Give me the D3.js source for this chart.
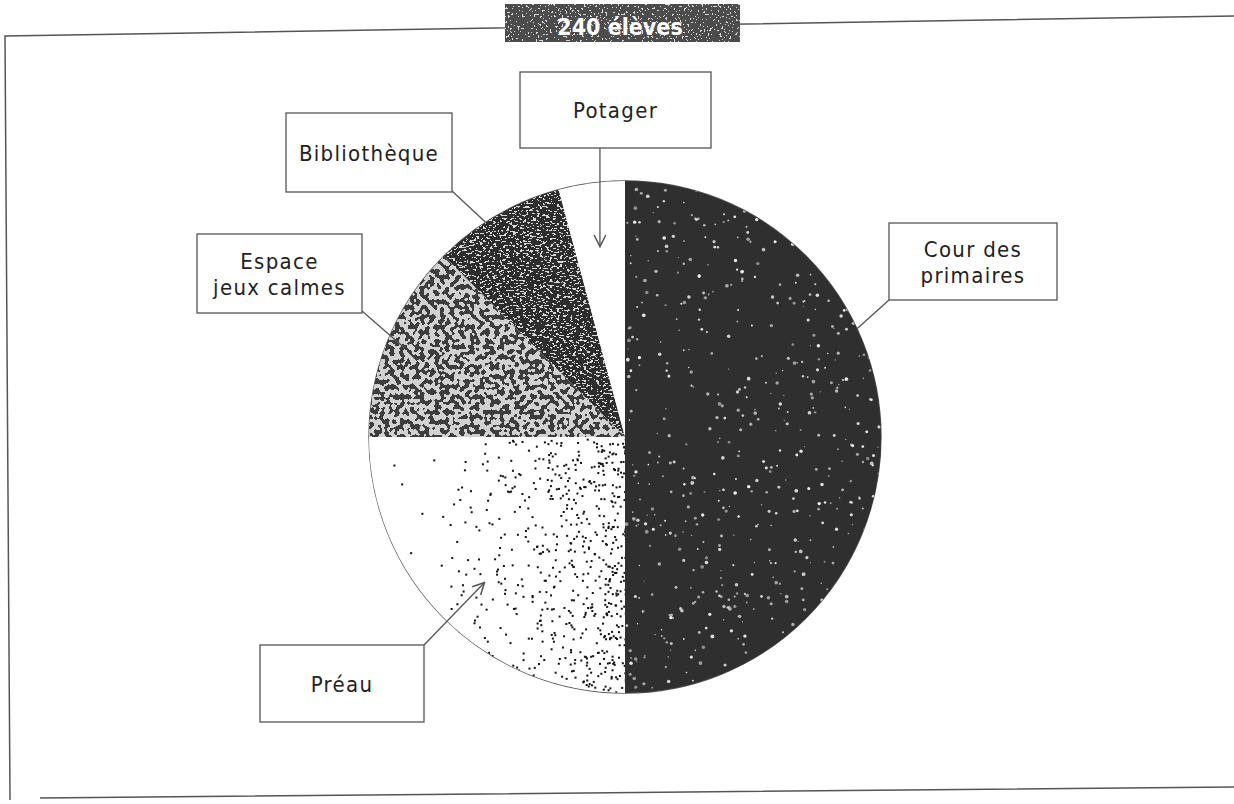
<!DOCTYPE html>
<html lang="fr">
<head>
<meta charset="UTF-8">
<title>240 élèves</title>
<style>
  body { margin: 0; background: #fff; }
  .lbl { font-family: "DejaVu Sans Condensed", "DejaVu Sans", sans-serif; font-size: 22px; letter-spacing: 1.3px; fill: #222; }
</style>
</head>
<body>
<svg width="1234" height="804" id="svg"></svg>
<script src="https://d3js.org/d3.v7.min.js"></script>
<script>
// données : répartition des 240 élèves
const categories = ["Cour des primaires", "Préau", "Espace jeux calmes", "Bibliothèque", "Potager"]
const students = [120, 60, 30, 20, 10]
const title = "240 élèves"

// mise en page des étiquettes (boîte + angle/rayon du point visé dans la part)
const labelLayout = [
  { lines: ["Cour des", "primaires"], box: [889, 223, 168, 77], from: [889, 300], angle: 65, rf: 1.0, arrow: false },
  { lines: ["Préau"], box: [260, 645, 164, 77], from: [424, 645], angle: 224, rf: 0.79, arrow: true },
  { lines: ["Espace", "jeux calmes"], box: [197, 234, 165, 79], from: [362, 311], angle: 292, rf: 0.93, arrow: false },
  { lines: ["Bibliothèque"], box: [286, 113, 166, 79], from: [452, 191], angle: 327, rf: 1.0, arrow: false },
  { lines: ["Potager"], box: [520, 72, 191, 76], from: null, angle: 352.5, rf: 0.75, arrow: true }
]

const svg = d3.select("svg#svg")
const cx = 625, cy = 437, radius = 256
const defs = svg.append("defs")
const rng = d3.randomLcg(0.4217)

// texture de grain (bruit seuillé)
function grain(id, freq, octaves, cut, dark, light, box) {
  const f = defs.append("filter").attr("id", id)
    .attr("filterUnits", "userSpaceOnUse")
    .attr("x", box[0]).attr("y", box[1]).attr("width", box[2]).attr("height", box[3])
    .attr("color-interpolation-filters", "sRGB")
  f.append("feTurbulence").attr("type", "fractalNoise").attr("baseFrequency", freq)
    .attr("numOctaves", octaves).attr("seed", 7).attr("result", "n")
  f.append("feColorMatrix").attr("type", "matrix")
    .attr("values", "1 0 0 0 0  1 0 0 0 0  1 0 0 0 0  0 0 0 0 1")
  const table = d3.range(20).map(i => (i / 20 >= cut ? light : dark)).join(" ")
  const ct = f.append("feComponentTransfer")
  ;["feFuncR", "feFuncG", "feFuncB"].forEach(fn => ct.append(fn).attr("type", "discrete").attr("tableValues", table))
}

const pieBox = [cx - radius - 5, cy - radius - 5, 2 * radius + 10, 2 * radius + 10]
grain("texEspace", 0.2, 1, 0.5, 0.24, 0.82, pieBox)
grain("texBiblio", "0.3 0.6", 2, 0.6, 0.18, 0.85, pieBox)
grain("texTitle", 0.5, 2, 0.65, 0.3, 0.85, [505, 4, 235, 38])

// frame
svg.append("path")
  .attr("d", "M10,800 L5,36 L1234,16 M40,798 L1234,787")
  .attr("fill", "none").attr("stroke", "#555").attr("stroke-width", 1.5)

// title box
svg.append("rect").attr("x", 505).attr("y", 4).attr("width", 235).attr("height", 38)
  .attr("fill", "#000").attr("filter", "url(#texTitle)")
svg.append("text").attr("x", 620).attr("y", 35).attr("text-anchor", "middle")
  .attr("font-family", "DejaVu Sans Condensed, DejaVu Sans, sans-serif")
  .attr("font-weight", "bold").attr("font-size", 23).attr("fill", "#fff")
  .text(title)

// pie
const pie = d3.pie().sort(null).value(d => d)
const arcs = pie(students)
const arc = d3.arc().innerRadius(0).outerRadius(radius)
const g = svg.append("g").attr("transform", `translate(${cx},${cy})`)

arcs.forEach((a, i) => {
  defs.append("clipPath").attr("id", "clip" + i)
    .append("path").attr("d", arc(a)).attr("transform", `translate(${cx},${cy})`)
})

const fills = ["#2f2f2f", "#fff", "#000", "#000", "#fff"]
const filters = [null, null, "url(#texEspace)", "url(#texBiblio)", null]
arcs.forEach((a, i) => {
  svg.append("rect")
    .attr("x", pieBox[0]).attr("y", pieBox[1]).attr("width", pieBox[2]).attr("height", pieBox[3])
    .attr("fill", fills[i]).attr("filter", filters[i]).attr("clip-path", `url(#clip${i})`)
})

// speckles on Cour des primaires
const cour = svg.append("g").attr("clip-path", "url(#clip0)")
for (let k = 0; k < 650; k++) {
  const x = cx + rng() * radius, y = cy - radius + rng() * 2 * radius
  cour.append("circle").attr("cx", x).attr("cy", y).attr("r", 0.6 + rng() * 1.3)
    .attr("fill", "#fff").attr("opacity", 0.45 + rng() * 0.5)
}
// dots on Préau, denser toward the centre line
const preau = svg.append("g").attr("clip-path", "url(#clip1)")
for (let k = 0; k < 3000; k++) {
  const u = rng(), v = rng()
  const p = Math.pow(u, 2.2) * 0.6 + 0.02
  if (rng() > p) continue
  preau.append("rect").attr("x", cx - radius + u * radius).attr("y", cy + v * radius)
    .attr("width", 2).attr("height", 2).attr("fill", "#111")
}

// slice separators and outline
g.selectAll("path.sep").data(arcs).join("path").attr("class", "sep")
  .attr("d", arc).attr("fill", "none").attr("stroke", "#fff").attr("stroke-width", 2)
g.append("circle").attr("r", radius).attr("fill", "none").attr("stroke", "#555").attr("stroke-width", 1.3)
g.append("line").attr("x1", 0).attr("y1", -radius).attr("x2", 0).attr("y2", radius)
  .attr("stroke", "#2f2f2f").attr("stroke-width", 1)

// arrow marker
defs.append("marker").attr("id", "arr").attr("viewBox", "0 0 12 12")
  .attr("refX", 11).attr("refY", 6).attr("markerWidth", 14).attr("markerHeight", 14)
  .attr("markerUnits", "userSpaceOnUse").attr("orient", "auto")
  .append("path").attr("d", "M1,1 L11,6 L1,11").attr("fill", "none").attr("stroke", "#555").attr("stroke-width", 1.3)

// labels
labelLayout.forEach(l => {
  const [bx, by, bw, bh] = l.box
  const rad = l.angle * Math.PI / 180
  const tx = cx + Math.sin(rad) * radius * l.rf
  const ty = cy - Math.cos(rad) * radius * l.rf
  const from = l.from || [tx, by + bh]
  svg.append("line").attr("x1", from[0]).attr("y1", from[1]).attr("x2", tx).attr("y2", ty)
    .attr("stroke", "#555").attr("stroke-width", 1.3)
    .attr("marker-end", l.arrow ? "url(#arr)" : null)
  svg.append("rect").attr("x", bx).attr("y", by).attr("width", bw).attr("height", bh)
    .attr("fill", "#fff").attr("stroke", "#555").attr("stroke-width", 1.3)
  const t = svg.append("text").attr("class", "lbl").attr("text-anchor", "middle")
  const lh = 26
  const y0 = by + bh / 2 - (l.lines.length - 1) * lh / 2 + 8
  l.lines.forEach((s, i) => t.append("tspan").attr("x", bx + bw / 2).attr("y", y0 + i * lh).text(s))
})
</script>
</body>
</html>
